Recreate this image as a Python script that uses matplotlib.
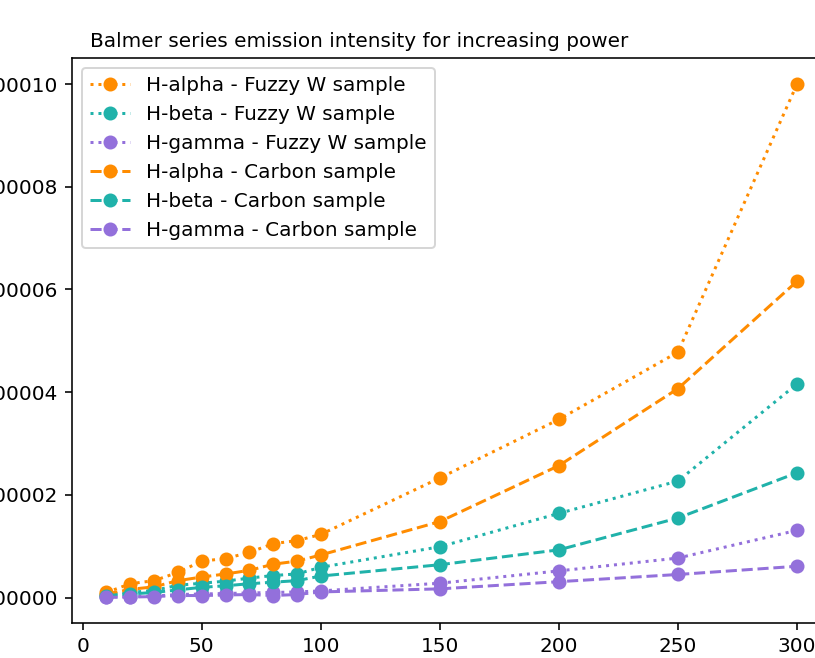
import matplotlib.pyplot as plt

# Laser power settings
power = [10, 20, 30, 40, 50, 60, 70, 80, 90, 100, 150, 200, 250, 300]

# Line intensities (arb. units) for the Fuzzy W sample
alpha_fuzzy = [1.0e-6, 2.7e-6, 3.3e-6, 4.9e-6, 7.1e-6, 7.6e-6, 8.8e-6, 10.5e-6, 11.1e-6, 12.3e-6,
               23.3e-6, 34.7e-6, 47.8e-6, 100.0e-6]
beta_fuzzy = [0.6e-6, 1.0e-6, 1.4e-6, 2.4e-6, 2.8e-6, 3.2e-6, 3.8e-6, 4.3e-6, 4.6e-6, 5.9e-6,
              9.9e-6, 16.4e-6, 22.7e-6, 41.6e-6]
gamma_fuzzy = [0.1e-6, 0.2e-6, 0.3e-6, 0.6e-6, 0.7e-6, 0.8e-6, 0.9e-6, 1.0e-6, 1.1e-6, 1.3e-6,
               2.8e-6, 5.2e-6, 7.7e-6, 13.1e-6]

# Line intensities for the Carbon sample
alpha_carbon = [0.7e-6, 1.6e-6, 2.1e-6, 3.3e-6, 4.0e-6, 4.6e-6, 5.3e-6, 6.5e-6, 7.1e-6, 8.3e-6,
                14.8e-6, 25.7e-6, 40.7e-6, 61.6e-6]
beta_carbon = [0.4e-6, 0.7e-6, 1.0e-6, 1.5e-6, 2.0e-6, 2.3e-6, 2.7e-6, 3.0e-6, 3.3e-6, 4.2e-6,
               6.4e-6, 9.3e-6, 15.5e-6, 24.3e-6]
gamma_carbon = [0.05e-6, 0.1e-6, 0.2e-6, 0.4e-6, 0.4e-6, 0.5e-6, 0.6e-6, 0.4e-6, 0.6e-6, 1.1e-6,
                1.7e-6, 3.1e-6, 4.5e-6, 6.1e-6]

lines = ["H-alpha", "H-beta", "H-gamma"]
colors = ["darkorange", "lightseagreen", "mediumpurple"]

fig = plt.figure(figsize=(815 / 144, 658 / 144), dpi=144)
ax = fig.add_axes([0.0883, 0.0532, 0.932, 0.858])

# Dotted = Fuzzy W, dashed = Carbon
for name, color, vals in zip(lines, colors, [alpha_fuzzy, beta_fuzzy, gamma_fuzzy]):
    ax.plot(power, vals, marker="o", linestyle=":", color=color, label=f"{name} - Fuzzy W sample")
for name, color, vals in zip(lines, colors, [alpha_carbon, beta_carbon, gamma_carbon]):
    ax.plot(power, vals, marker="o", linestyle="--", color=color, label=f"{name} - Carbon sample")

ax.text(0.0237, 1.021, "Balmer series emission intensity for increasing power",
        transform=ax.transAxes, fontsize=10, ha="left", va="baseline")
ax.legend(loc="upper left")

fig.savefig("out.png", dpi=144)
